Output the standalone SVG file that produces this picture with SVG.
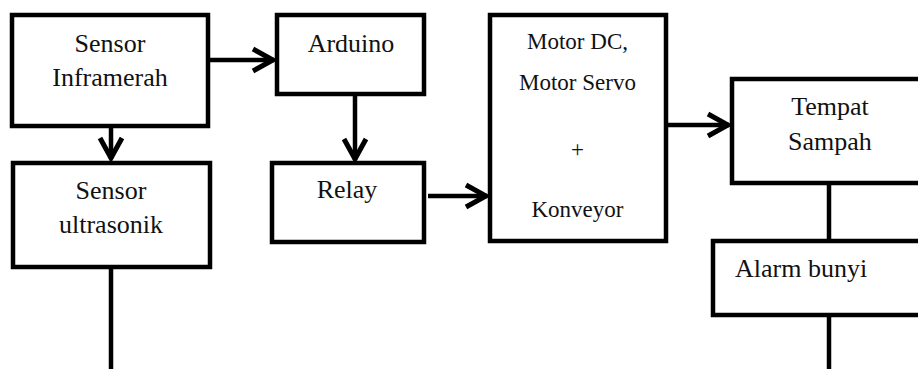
<svg xmlns="http://www.w3.org/2000/svg" width="918" height="369" viewBox="0 0 918 369">
<style>
.box{fill:#fff;stroke:#000;stroke-width:4.5}
.t{font-family:"Liberation Serif","Times New Roman",serif;font-size:26px;fill:#111;text-anchor:middle}
.s{font-size:23px}
.ln{stroke:#000;stroke-width:4.5;fill:none}
</style>
<defs>
<marker id="ah" markerUnits="userSpaceOnUse" viewBox="-26 -16 30 32" markerWidth="30" markerHeight="32" refX="0" refY="0" orient="auto">
<path d="M-21,-11 L-1,0 L-21,11" fill="none" stroke="#000" stroke-width="5"/>
</marker>
</defs>
<rect width="918" height="369" fill="#fff"/>
<g id="connectors">
<line class="ln" x1="208" y1="60" x2="274" y2="60" marker-end="url(#ah)"/>
<line class="ln" x1="111" y1="126" x2="111" y2="159" marker-end="url(#ah)"/>
<line class="ln" x1="355" y1="94" x2="355" y2="160" marker-end="url(#ah)"/>
<line class="ln" x1="428" y1="196" x2="487" y2="196" marker-end="url(#ah)"/>
<line class="ln" x1="666" y1="125" x2="729" y2="125" marker-end="url(#ah)"/>
<line class="ln" x1="111" y1="267" x2="111" y2="369"/>
<line class="ln" x1="829" y1="183" x2="829" y2="239"/>
<line class="ln" x1="829" y1="315" x2="829" y2="369"/>
</g>
<g id="sensor-inframerah">
<rect class="box" x="12" y="15" width="196" height="111"/>
<text class="t" x="110" y="52">Sensor</text>
<text class="t" x="110" y="86">Inframerah</text>
</g>
<g id="arduino">
<rect class="box" x="277" y="15" width="147" height="79"/>
<text class="t" x="351" y="52">Arduino</text>
</g>
<g id="sensor-ultrasonik">
<rect class="box" x="13" y="163" width="197" height="104"/>
<text class="t" x="111" y="199">Sensor</text>
<text class="t" x="111" y="233">ultrasonik</text>
</g>
<g id="relay">
<rect class="box" x="272" y="163" width="152" height="79"/>
<text class="t" x="347" y="198">Relay</text>
</g>
<g id="motor">
<rect class="box" x="490" y="15" width="176" height="226"/>
<text class="t s" x="577.5" y="49">Motor DC,</text>
<text class="t s" x="577.5" y="90">Motor Servo</text>
<text class="t s" x="577.5" y="157">+</text>
<text class="t s" x="577.5" y="217">Konveyor</text>
</g>
<g id="tempat-sampah">
<rect class="box" x="732" y="79" width="200" height="104"/>
<text class="t" x="830" y="115">Tempat</text>
<text class="t" x="830" y="150">Sampah</text>
</g>
<g id="alarm-bunyi">
<rect class="box" x="713" y="241" width="220" height="74"/>
<text class="t" x="735" y="277" text-anchor="start" style="text-anchor:start">Alarm bunyi</text>
</g>
</svg>
